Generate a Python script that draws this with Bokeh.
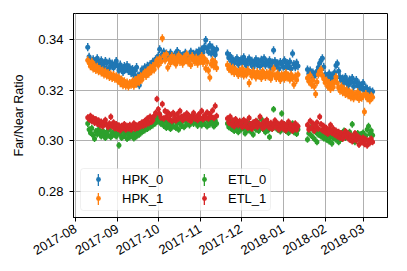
import math
from datetime import datetime
import numpy as np
from bokeh.plotting import figure
from bokeh.models import (Range1d, FixedTicker, NumeralTickFormatter, MonthsTicker,
                          DatetimeTickFormatter, Legend, LegendItem, ColumnDataSource,
                          BoxAnnotation)
from bokeh.embed import file_html
from bokeh.resources import INLINE

# ---------------- data ----------------
# days since 2017-08-01
day_offsets = [
    9, 10, 11, 12, 13, 14, 15, 16, 17, 18, 19, 20, 21, 22, 23, 24, 25, 26, 27, 28,
    29, 30, 31, 32, 33, 34, 35, 36, 37, 38, 39, 40, 41, 42, 43, 44, 45, 46, 47, 48,
    49, 50, 51, 52, 53, 54, 55, 56, 57, 58, 59, 60, 61, 62, 63, 64, 65, 66, 67, 68,
    69, 70, 71, 72, 73, 74, 75, 76, 77, 78, 79, 80, 81, 82, 83, 84, 85, 86, 87, 88,
    89, 90, 91, 92, 93, 94, 95, 96, 97, 98, 99, 100, 101, 102, 103, 104,
    112, 113, 114, 115, 116, 117, 118, 119, 120, 121, 122, 123, 124, 125, 126, 127,
    128, 129, 130, 131, 132, 133, 134, 135, 136, 137, 138, 139, 140, 141, 142, 143,
    144, 145, 146, 147, 148, 149, 150, 151, 152, 153, 154, 155, 156, 157, 158, 159,
    160, 161, 162, 163, 164,
    171, 172, 173, 174, 175, 176, 177, 178, 179, 180, 181, 182, 183, 184, 185, 186,
    187, 188, 189, 190, 191, 192, 193, 194, 195, 196, 197, 198, 199, 200, 201, 202,
    203, 204, 205, 206, 207, 208, 209, 210, 211, 212, 213, 214, 215, 216, 217, 218, 219,
]

hpk_0 = [
    0.3370, 0.3332, 0.3318, 0.3305, 0.3322, 0.3298, 0.3312, 0.3326, 0.3308, 0.3295,
    0.3318, 0.3302, 0.3291, 0.3315, 0.3308, 0.3284, 0.3312, 0.3297, 0.3305, 0.3289,
    0.3302, 0.3315, 0.3296, 0.3278, 0.3301, 0.3288, 0.3272, 0.3295, 0.3283, 0.3299,
    0.3276, 0.3289, 0.3268, 0.3284, 0.3262, 0.3279, 0.3291, 0.3258, 0.3220, 0.3265,
    0.3282, 0.3274, 0.3290, 0.3278, 0.3296, 0.3285, 0.3302, 0.3293, 0.3312, 0.3305,
    0.3322, 0.3318, 0.3335, 0.3362, 0.3328, 0.3341, 0.3352, 0.3330, 0.3345, 0.3338,
    0.3325, 0.3348, 0.3336, 0.3322, 0.3340, 0.3331, 0.3355, 0.3328, 0.3343, 0.3319,
    0.3337, 0.3326, 0.3348, 0.3332, 0.3321, 0.3339, 0.3352, 0.3328, 0.3344, 0.3335,
    0.3349, 0.3338, 0.3356, 0.3342, 0.3361, 0.3350, 0.3372, 0.3398, 0.3365, 0.3352,
    0.3378, 0.3345, 0.3368, 0.3355, 0.3340, 0.3362,
    0.3345, 0.3328, 0.3335, 0.3312, 0.3322, 0.3308, 0.3318, 0.3326, 0.3302, 0.3315,
    0.3321, 0.3307, 0.3330, 0.3312, 0.3298, 0.3318, 0.3325, 0.3305, 0.3316, 0.3292,
    0.3310, 0.3322, 0.3301, 0.3314, 0.3296, 0.3320, 0.3308, 0.3326, 0.3299, 0.3312,
    0.3303, 0.3318, 0.3290, 0.3309, 0.3358, 0.3315, 0.3298, 0.3306, 0.3285, 0.3311,
    0.3302, 0.3294, 0.3318, 0.3288, 0.3307, 0.3296, 0.3312, 0.3285, 0.3345, 0.3303,
    0.3291, 0.3308, 0.3296,
    0.3282, 0.3265, 0.3278, 0.3252, 0.3270, 0.3258, 0.3262, 0.3275, 0.3290, 0.3306,
    0.3318, 0.3326, 0.3292, 0.3262, 0.3255, 0.3248, 0.3266, 0.3240, 0.3258, 0.3245,
    0.3270, 0.3298, 0.3305, 0.3275, 0.3252, 0.3238, 0.3246, 0.3228, 0.3252, 0.3235,
    0.3220, 0.3242, 0.3230, 0.3248, 0.3215, 0.3232, 0.3240, 0.3218, 0.3226, 0.3205,
    0.3212, 0.3228, 0.3198, 0.3210, 0.3205, 0.3192, 0.3200, 0.3185, 0.3195,
]

hpk_1 = [
    0.3318, 0.3308, 0.3295, 0.3312, 0.3286, 0.3298, 0.3280, 0.3292, 0.3275, 0.3284,
    0.3270, 0.3278, 0.3262, 0.3274, 0.3258, 0.3268, 0.3252, 0.3263, 0.3248, 0.3260,
    0.3245, 0.3255, 0.3238, 0.3250, 0.3228, 0.3242, 0.3220, 0.3235, 0.3218, 0.3230,
    0.3215, 0.3228, 0.3222, 0.3235, 0.3218, 0.3240, 0.3226, 0.3248, 0.3232, 0.3255,
    0.3242, 0.3262, 0.3270, 0.3256, 0.3278, 0.3265, 0.3288, 0.3275, 0.3295, 0.3282,
    0.3305, 0.3318, 0.3298, 0.3325, 0.3312, 0.3405, 0.3335, 0.3318, 0.3342, 0.3290,
    0.3322, 0.3308, 0.3335, 0.3315, 0.3328, 0.3302, 0.3320, 0.3338, 0.3312, 0.3325,
    0.3305, 0.3330, 0.3318, 0.3342, 0.3310, 0.3325, 0.3300, 0.3335, 0.3318, 0.3312,
    0.3328, 0.3305, 0.3322, 0.3315, 0.3335, 0.3308, 0.3325, 0.3286, 0.3312, 0.3278,
    0.3250, 0.3302, 0.3318, 0.3295, 0.3310, 0.3288,
    0.3300, 0.3285, 0.3292, 0.3275, 0.3288, 0.3268, 0.3282, 0.3272, 0.3260, 0.3278,
    0.3265, 0.3285, 0.3258, 0.3272, 0.3262, 0.3280, 0.3228, 0.3268, 0.3255, 0.3275,
    0.3262, 0.3250, 0.3272, 0.3258, 0.3266, 0.3248, 0.3275, 0.3260, 0.3252, 0.3268,
    0.3255, 0.3270, 0.3245, 0.3262, 0.3285, 0.3258, 0.3248, 0.3266, 0.3252, 0.3240,
    0.3262, 0.3255, 0.3245, 0.3268, 0.3250, 0.3258, 0.3242, 0.3262, 0.3248, 0.3222,
    0.3255, 0.3240, 0.3262,
    0.3248, 0.3235, 0.3258, 0.3222, 0.3240, 0.3215, 0.3185, 0.3232, 0.3262, 0.3275,
    0.3282, 0.3258, 0.3245, 0.3230, 0.3238, 0.3215, 0.3228, 0.3205, 0.3225, 0.3212,
    0.3235, 0.3252, 0.3228, 0.3210, 0.3198, 0.3215, 0.3192, 0.3205, 0.3185, 0.3200,
    0.3180, 0.3195, 0.3172, 0.3190, 0.3168, 0.3185, 0.3175, 0.3192, 0.3165, 0.3182,
    0.3170, 0.3178, 0.3115, 0.3185, 0.3168, 0.3175, 0.3160, 0.3178, 0.3172,
]

etl_0 = [
    0.3068, 0.3045, 0.3032, 0.3050, 0.3022, 0.3008, 0.3038, 0.3026, 0.3045, 0.3030,
    0.3018, 0.3040, 0.3028, 0.3012, 0.3035, 0.3022, 0.3046, 0.3015, 0.3032, 0.3025,
    0.3040, 0.3018, 0.3030, 0.2982, 0.3025, 0.3012, 0.3038, 0.3020, 0.3032, 0.3008,
    0.3028, 0.3015, 0.3036, 0.3022, 0.3010, 0.3032, 0.3018, 0.3040, 0.3025, 0.3045,
    0.3035, 0.3052, 0.3042, 0.3060, 0.3048, 0.3068, 0.3055, 0.3075, 0.3062, 0.3082,
    0.3070, 0.3095, 0.3078, 0.3105, 0.3068, 0.3085, 0.3060, 0.3078, 0.3052, 0.3070,
    0.3062, 0.3048, 0.3075, 0.3058, 0.3080, 0.3052, 0.3068, 0.3045, 0.3072, 0.3060,
    0.3078, 0.3055, 0.3082, 0.3065, 0.3090, 0.3062, 0.3075, 0.3098, 0.3068, 0.3085,
    0.3072, 0.3060, 0.3088, 0.3075, 0.3062, 0.3080, 0.3068, 0.3092, 0.3058, 0.3078,
    0.3065, 0.3085, 0.3070, 0.3058, 0.3080, 0.3068,
    0.3068, 0.3055, 0.3075, 0.3048, 0.3062, 0.3040, 0.3070, 0.3052, 0.3035, 0.3060,
    0.3045, 0.3072, 0.3050, 0.3030, 0.3058, 0.3042, 0.3068, 0.3038, 0.3055, 0.3025,
    0.3062, 0.3045, 0.3075, 0.3040, 0.3052, 0.3085, 0.3048, 0.3065, 0.3035, 0.3058,
    0.3042, 0.3015, 0.3060, 0.3048, 0.3125, 0.3055, 0.3070, 0.3045, 0.3062, 0.3038,
    0.3108, 0.3050, 0.3065, 0.3040, 0.3058, 0.3032, 0.3055, 0.3042, 0.3068, 0.3035,
    0.3050, 0.3028, 0.3045,
    0.3005, 0.3030, 0.3052, 0.3020, 0.3045, 0.3008, 0.3035, 0.2995, 0.3025, 0.3040,
    0.3018, 0.3032, 0.3010, 0.3028, 0.3005, 0.3022, 0.2998, 0.3015, 0.2990, 0.3012,
    0.3025, 0.3005, 0.3018, 0.2995, 0.3030, 0.3008, 0.3022, 0.3040, 0.3012, 0.3028,
    0.3015, 0.3035, 0.3005, 0.3065, 0.3022, 0.2995, 0.3018, 0.3030, 0.3008, 0.3025,
    0.3012, 0.3032, 0.3002, 0.3020, 0.3045, 0.3058, 0.3028, 0.3040, 0.3022,
]

etl_1 = [
    0.3092, 0.3085, 0.3098, 0.3078, 0.3090, 0.3072, 0.3085, 0.3068, 0.3080, 0.3062,
    0.3075, 0.3058, 0.3070, 0.3082, 0.3062, 0.3055, 0.3068, 0.3095, 0.3058, 0.3072,
    0.3050, 0.3065, 0.3048, 0.3060, 0.3042, 0.3058, 0.3052, 0.3065, 0.3045, 0.3058,
    0.3050, 0.3062, 0.3045, 0.3055, 0.3068, 0.3048, 0.3060, 0.3052, 0.3065, 0.3058,
    0.3072, 0.3060, 0.3078, 0.3065, 0.3088, 0.3070, 0.3095, 0.3075, 0.3082, 0.3098,
    0.3110, 0.3165, 0.3125, 0.3105, 0.3092, 0.3145, 0.3088, 0.3118, 0.3095, 0.3112,
    0.3085, 0.3102, 0.3078, 0.3110, 0.3092, 0.3080, 0.3105, 0.3088, 0.3118, 0.3095,
    0.3082, 0.3100, 0.3090, 0.3108, 0.3085, 0.3098, 0.3078, 0.3092, 0.3110, 0.3088,
    0.3095, 0.3082, 0.3105, 0.3090, 0.3118, 0.3085, 0.3100, 0.3092, 0.3112, 0.3088,
    0.3105, 0.3095, 0.3120, 0.3090, 0.3138, 0.3098,
    0.3088, 0.3072, 0.3095, 0.3065, 0.3080, 0.3058, 0.3085, 0.3070, 0.3062, 0.3078,
    0.3068, 0.3055, 0.3082, 0.3060, 0.3075, 0.3052, 0.3090, 0.3065, 0.3048, 0.3072,
    0.3060, 0.3078, 0.3055, 0.3068, 0.3095, 0.3062, 0.3050, 0.3075, 0.3058, 0.3082,
    0.3065, 0.3052, 0.3070, 0.3048, 0.3062, 0.3080, 0.3055, 0.3068, 0.3045, 0.3060,
    0.3072, 0.3050, 0.3065, 0.3042, 0.3058, 0.3075, 0.3048, 0.3062, 0.3040, 0.3055,
    0.3068, 0.3045, 0.3058,
    0.3062, 0.3045, 0.3078, 0.3052, 0.3068, 0.3040, 0.3058, 0.3072, 0.3048, 0.3095,
    0.3065, 0.3042, 0.3058, 0.3035, 0.3050, 0.3028, 0.3045, 0.3062, 0.3032, 0.3048,
    0.3025, 0.3040, 0.3018, 0.3035, 0.3012, 0.3030, 0.3008, 0.3022, 0.3038, 0.3015,
    0.3028, 0.3005, 0.3020, 0.2998, 0.3015, 0.3030, 0.3002, 0.3018, 0.2985, 0.3010,
    0.2995, 0.3012, 0.2988, 0.3005, 0.2982, 0.3000, 0.2992, 0.3008, 0.2995,
]

series_names = ["HPK_0", "HPK_1", "ETL_0", "ETL_1"]
series_values = [hpk_0, hpk_1, etl_0, etl_1]
series_errors = [0.0016, 0.0016, 0.0013, 0.0013]
series_colors = ["#1f77b4", "#ff7f0e", "#2ca02c", "#d62728"]

y_ticks = [0.28, 0.30, 0.32, 0.34]

# ---------------- figure ----------------
FONT = "Liberation Sans"
start_day = np.datetime64("2017-08-01")
dates = start_day + np.array(day_offsets).astype("timedelta64[D]")

p = figure(width=407, height=271, x_axis_type="datetime",
           output_backend="svg", toolbar_location=None,
           x_range=Range1d(datetime(2017, 7, 30, 12), datetime(2018, 3, 19)),
           y_range=Range1d(0.2697, 0.3503),
           min_border_left=73, min_border_right=20,
           min_border_top=13, min_border_bottom=54)

p.background_fill_color = "white"
p.border_fill_color = "white"
p.outline_line_color = "black"
p.outline_line_width = 1

p.xgrid.grid_line_color = "#b0b0b0"
p.ygrid.grid_line_color = "#b0b0b0"
p.xgrid.grid_line_width = 1
p.ygrid.grid_line_width = 1

p.yaxis.ticker = FixedTicker(ticks=y_ticks)
p.yaxis.formatter = NumeralTickFormatter(format="0.00")
p.xaxis.ticker = MonthsTicker(months=list(range(1, 13)))
p.xaxis.formatter = DatetimeTickFormatter(months="%Y-%m", days="%Y-%m",
                                          years="%Y-%m", hours="%Y-%m")
p.xaxis.major_label_orientation = math.pi / 6

for ax in (p.xaxis, p.yaxis):
    ax.axis_line_color = "black"
    ax.major_tick_line_color = "black"
    ax.major_tick_out = 4
    ax.major_tick_in = 0
    ax.minor_tick_line_color = None
    ax.major_label_text_font = FONT
    ax.major_label_text_font_size = "13px"
    ax.major_label_text_color = "black"
p.yaxis.major_label_standoff = 6
p.xaxis.major_label_standoff = 6

p.yaxis.axis_label = "Far/Near Ratio"
p.yaxis.axis_label_text_font = FONT
p.yaxis.axis_label_text_font_size = "12.5px"
p.yaxis.axis_label_text_font_style = "normal"
p.yaxis.axis_label_text_color = "black"
p.yaxis.axis_label_standoff = 9

bar_width_ms = 1.1 * 86400000
bar_renderers = []
dot_renderers = []
for name, vals, err, color in zip(series_names, series_values, series_errors, series_colors):
    v = np.array(vals)
    src = ColumnDataSource(dict(x=dates, y=v, lo=v - err, hi=v + err))
    bars = p.vbar(x="x", top="hi", bottom="lo", width=bar_width_ms, source=src,
                  fill_color=color, line_color=None)
    dots = p.scatter(x="x", y="y", source=src, size=5, marker="circle",
                     fill_color=color, line_color=None)
    bar_renderers.append(bars)
    dot_renderers.append(dots)

# legend box
box = BoxAnnotation(left=7, right=197, bottom=7, top=49,
                    left_units="screen", right_units="screen",
                    top_units="screen", bottom_units="screen",
                    fill_color="white", fill_alpha=0.8,
                    line_color="#cccccc", line_width=1)
if "border_radius" in BoxAnnotation.properties():
    box.border_radius = 3
p.add_layout(box)

# legend dots (no labels)
leg_dots = Legend(items=[LegendItem(label="", renderers=[r]) for r in dot_renderers],
                  location=(19, 13), orientation="vertical", nrows=2,
                  glyph_width=12, glyph_height=12, label_height=12,
                  label_width=87, label_standoff=0, spacing=7, padding=0, margin=0,
                  label_text_font_size="1px",
                  border_line_color=None, background_fill_alpha=0)
# legend bars + labels
leg_bars = Legend(items=[LegendItem(label=n, renderers=[r])
                         for n, r in zip(series_names, bar_renderers)],
                  location=(24, 10.5), orientation="vertical", nrows=2,
                  glyph_width=2, glyph_height=15, label_height=16,
                  label_width=78, label_standoff=23, spacing=3, padding=0, margin=0,
                  label_text_font=FONT, label_text_font_size="13px",
                  label_text_color="black",
                  border_line_color=None, background_fill_alpha=0)
p.add_layout(leg_dots)
p.add_layout(leg_bars)

open("out.html", "w").write(file_html(p, INLINE))
